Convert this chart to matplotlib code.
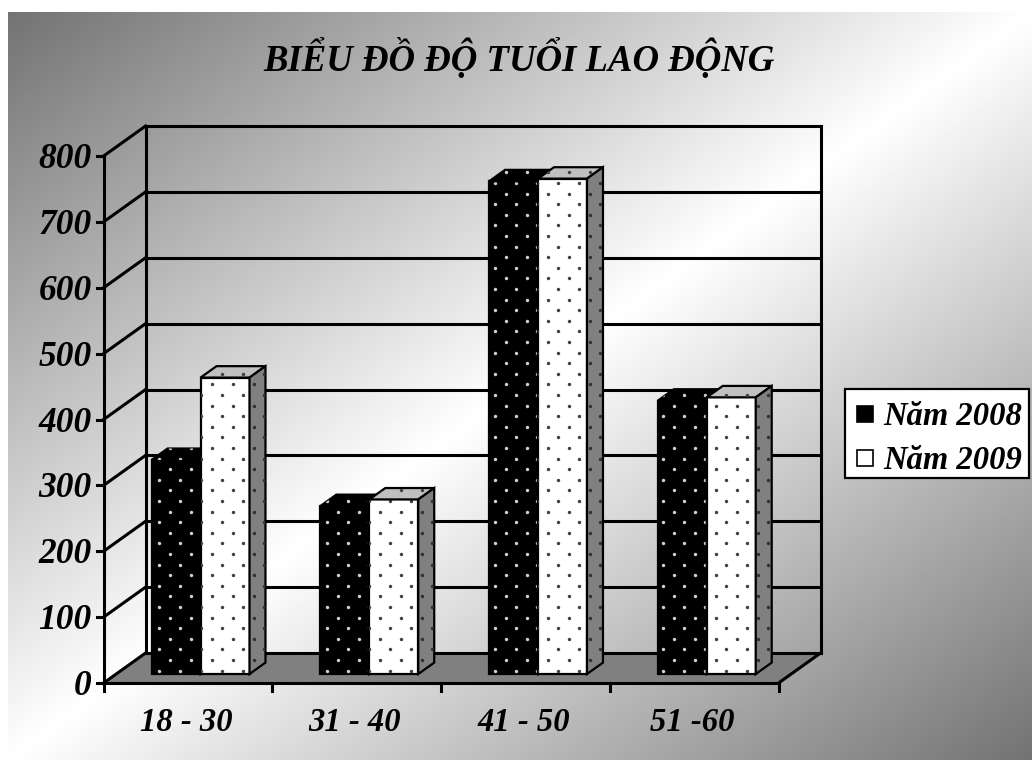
import numpy as np
import matplotlib
matplotlib.use("Agg")
import matplotlib.pyplot as plt
from matplotlib.patches import Polygon, Rectangle
from matplotlib.lines import Line2D
from matplotlib.transforms import IdentityTransform

# ---- data ----
categories = ["18 - 30", "31 - 40", "41 - 50", "51 -60"]
series_names = ["Năm 2008", "Năm 2009"]
values_2008 = [325, 255, 748, 415]
values_2009 = [450, 265, 752, 420]
y_ticks = [0, 100, 200, 300, 400, 500, 600, 700, 800]
title = "BIỂU ĐỒ ĐỘ TUỔI LAO ĐỘNG"

# ---- canvas ----
W, H, DPI = 1032, 760, 100
FONT = ["Liberation Serif", "DejaVu Serif"]
TXT = dict(family=FONT, fontweight="bold", style="italic", color="black")
ID = IdentityTransform()

fig = plt.figure(figsize=(W / DPI, H / DPI), dpi=DPI, facecolor="white")

# diagonal grey-white-grey background
bg = fig.add_axes([8 / W, 0, 1 - 8 / W, 1 - 12 / H])
gu, gv = np.meshgrid(np.linspace(0, 1, 600), np.linspace(0, 1, 600))
t = (gu + gv) / 2
shade = 1 - (1 - 115 / 255) * np.abs(1 - 2 * t)
bg.imshow(shade, cmap="gray", vmin=0, vmax=1, extent=[0, 1, 0, 1],
          aspect="auto", origin="upper", interpolation="bilinear")
bg.set_axis_off()

# value plane of the bar fronts
PX0, PY0, PW, PH = 116.2, 674, 675, 527
ax = fig.add_axes([PX0 / W, (H - PY0) / H, PW / W, PH / H])
ax.set_xlim(0, len(categories))
ax.set_ylim(0, y_ticks[-1])
ax.set_axis_off()
ax.patch.set_alpha(0)

DX, DY = 42.0, 30.0          # pixel depth of the floor
BAR_F, BAR_B = 0.30, 0.68    # bar front / back depth fractions


def to_disp(x, val, f):
    p = ax.transData.transform((x, val))
    return p + np.array([(f - BAR_F) * DX, (f - BAR_F) * DY])


def line(p, q, lw=2.2, z=2):
    ax.add_line(Line2D([p[0], q[0]], [p[1], q[1]], transform=ID, color="black",
                       lw=lw, solid_capstyle="projecting", zorder=z, clip_on=False))


# dot texture, anchored to a fixed pixel grid
DOT_X0, DOT_Y0, DOT_SX, DOT_SY = 159.3, H - 585.7, 21.0, 10.6


def add_dots(patch, verts, color, z):
    verts = np.asarray(verts)
    xmin, ymin = verts.min(axis=0) - 12
    xmax, ymax = verts.max(axis=0) + 12
    j0 = int(np.floor((ymin - DOT_Y0) / DOT_SY))
    j1 = int(np.ceil((ymax - DOT_Y0) / DOT_SY))
    xs, ys = [], []
    for j in range(j0, j1 + 1):
        y = DOT_Y0 + j * DOT_SY
        sh = (j % 2) * DOT_SX / 2
        i0 = int(np.floor((xmin - DOT_X0 - sh) / DOT_SX))
        i1 = int(np.ceil((xmax - DOT_X0 - sh) / DOT_SX))
        for i in range(i0, i1 + 1):
            xs.append(DOT_X0 + sh + i * DOT_SX)
            ys.append(y)
    sc = ax.scatter(xs, ys, s=6, c=color, marker="o", linewidths=0,
                    transform=ID, zorder=z)
    sc.set_clip_path(patch)


# floor
floor_pts = [to_disp(0, 0, 0), to_disp(len(categories), 0, 0),
             to_disp(len(categories), 0, 1), to_disp(0, 0, 1)]
ax.add_patch(Polygon(floor_pts, closed=True, transform=ID, facecolor="#808080",
                     edgecolor="none", zorder=1, clip_on=False))

# back wall gridlines and left wall diagonals
for v in y_ticks:
    line(to_disp(0, v, 1), to_disp(len(categories), v, 1))
    line(to_disp(0, v, 0), to_disp(0, v, 1))
    p = to_disp(0, v, 0)
    line(p, p - np.array([7, 0]))
    ax.text(p[0] - 12, p[1] - 12, str(v), transform=ID, ha="right",
            va="baseline", fontsize=25.5, **TXT)
for x in (0, len(categories)):
    line(to_disp(x, 0, 1), to_disp(x, y_ticks[-1], 1))
line(to_disp(0, 0, 0), to_disp(0, y_ticks[-1], 0))
line(to_disp(0, 0, 0), to_disp(len(categories), 0, 0))
line(to_disp(len(categories), 0, 0), to_disp(len(categories), 0, 1))
for k in range(len(categories) + 1):
    p = to_disp(k, 0, 0)
    line(p, p - np.array([0, 8]))
for k, cat in enumerate(categories):
    p = to_disp(k + 0.5, 0, 0)
    ax.text(p[0] - 2, p[1] - 48, cat, transform=ID, ha="center",
            va="baseline", fontsize=23.5, **TXT)

# bars
bar_w = 0.29
styles = [
    dict(front="#000000", top="#000000", side="#000000",
         dots_front="#d0d0d0", dots_top="#d0d0d0", dots_side="#d0d0d0"),
    dict(front="#ffffff", top="#c0c0c0", side="#808080",
         dots_front="#404040", dots_top="#404040", dots_side="#303030"),
]
series_values = [values_2008, values_2009]
for s, vals in enumerate(series_values):
    st = styles[s]
    xs = np.arange(len(categories)) + 0.5 + (s - 0.5) * bar_w
    bars = ax.bar(xs, vals, width=bar_w, color=st["front"], edgecolor="black",
                  linewidth=1.6, zorder=3 + s, clip_on=False)
    for rect in bars.patches:
        x0 = rect.get_x()
        x1 = x0 + rect.get_width()
        v = rect.get_height()
        front_v = [to_disp(x0, 0, BAR_F), to_disp(x1, 0, BAR_F),
                   to_disp(x1, v, BAR_F), to_disp(x0, v, BAR_F)]
        add_dots(rect, front_v, st["dots_front"], 3 + s + 0.05)
        top_v = [to_disp(x0, v, BAR_F), to_disp(x1, v, BAR_F),
                 to_disp(x1, v, BAR_B), to_disp(x0, v, BAR_B)]
        top = Polygon(top_v, closed=True, transform=ID, facecolor=st["top"],
                      edgecolor="black", lw=1.6, joinstyle="miter",
                      zorder=3 + s + 0.3, clip_on=False)
        ax.add_patch(top)
        add_dots(top, top_v, st["dots_top"], 3 + s + 0.35)
        side_v = [to_disp(x1, 0, BAR_F), to_disp(x1, v, BAR_F),
                  to_disp(x1, v, BAR_B), to_disp(x1, 0, BAR_B)]
        side = Polygon(side_v, closed=True, transform=ID, facecolor=st["side"],
                       edgecolor="black", lw=1.6, joinstyle="miter",
                       zorder=3 + s + 0.6, clip_on=False)
        ax.add_patch(side)
        add_dots(side, side_v, st["dots_side"], 3 + s + 0.65)

# legend
leg_box = Rectangle((845, H - 478), 184, 89, transform=ID, facecolor="white",
                    edgecolor="black", lw=1.6, zorder=10, clip_on=False)
ax.add_patch(leg_box)
for s, name in enumerate(series_names):
    cy = H - (414 + 44 * s)
    mk = Rectangle((857, cy - 8), 16, 16, transform=ID,
                   facecolor=styles[s]["front"], edgecolor="black", lw=1.2,
                   zorder=11, clip_on=False)
    ax.add_patch(mk)
    ax.scatter([864], [cy - 1], s=6, c=styles[s]["dots_front"], marker="o",
               linewidths=0, transform=ID, zorder=11.5)
    ax.text(883, cy - 11, name, transform=ID, ha="left", va="baseline",
            fontsize=23.5, zorder=12, **TXT)

# title
fig.text(519 / W, 1 - 71 / H, title, ha="center", va="baseline",
         fontsize=26.5, **TXT)

fig.savefig("out.png", dpi=DPI, facecolor=fig.get_facecolor())
